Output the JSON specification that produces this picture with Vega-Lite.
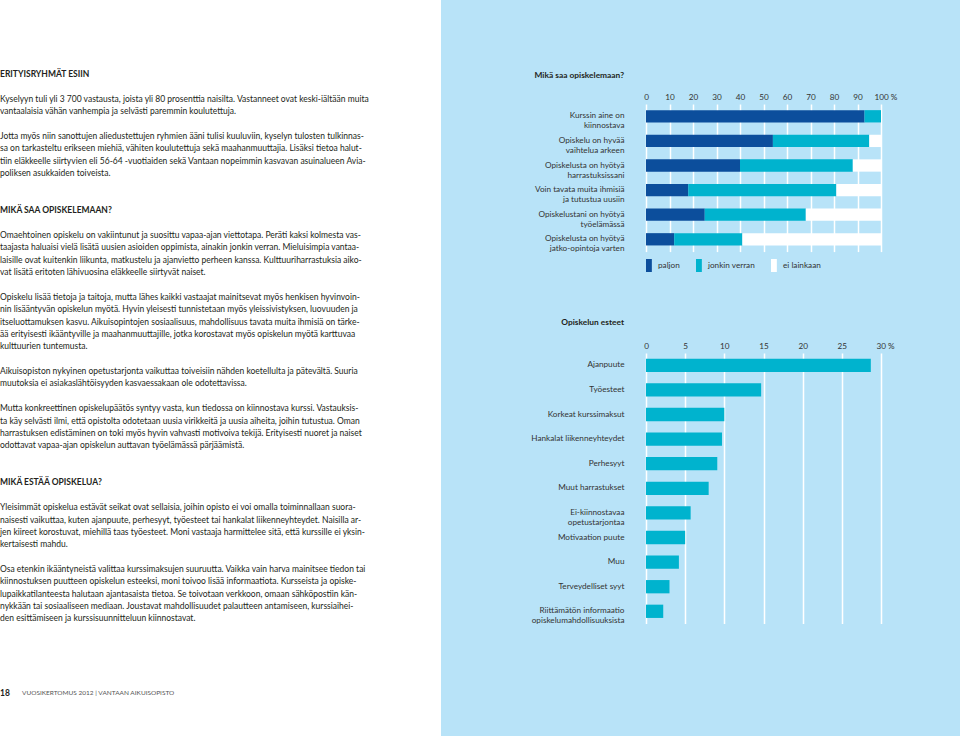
{
  "$schema": "https://vega.github.io/schema/vega-lite/v6.json",
  "background": "#b8e3f8",
  "padding": {"left": 0, "top": 0, "right": 67, "bottom": 0},
  "spacing": 89,
  "resolve": {"scale": {"color": "independent"}, "legend": {"color": "independent"}},
  "config": {
    "view": {"stroke": null},
    "font": "Lato",
    "axis": {"labelFont": "Lato", "labelFontSize": 8.2, "labelColor": "#333333"},
    "legend": {"labelFont": "Lato", "labelFontSize": 8.2, "labelColor": "#333333"}
  },
  "hconcat": [
    {
      "width": 441,
      "height": 736,
      "view": {"fill": "white", "stroke": null},
      "data": {
        "values": [
          {"line": 0, "kind": "h", "text": "ERITYISRYHMÄT ESIIN"},
          {"line": 2, "kind": "p", "text": "Kyselyyn tuli yli 3 700 vastausta, joista yli 80 prosenttia naisilta. Vastanneet ovat keski-iältään muita"},
          {"line": 3, "kind": "p", "text": "vantaalaisia vähän vanhempia ja selvästi paremmin koulutettuja."},
          {"line": 5, "kind": "p", "text": "Jotta myös niin sanottujen aliedustettujen ryhmien ääni tulisi kuuluviin, kyselyn tulosten tulkinnas-"},
          {"line": 6, "kind": "p", "text": "sa on tarkasteltu erikseen miehiä, vähiten koulutettuja sekä maahanmuuttajia. Lisäksi tietoa halut-"},
          {"line": 7, "kind": "p", "text": "tiin eläkkeelle siirtyvien eli 56-64 -vuotiaiden sekä Vantaan nopeimmin kasvavan asuinalueen Avia-"},
          {"line": 8, "kind": "p", "text": "poliksen asukkaiden toiveista."},
          {"line": 11, "kind": "h", "text": "MIKÄ SAA OPISKELEMAAN?"},
          {"line": 13, "kind": "p", "text": "Omaehtoinen opiskelu on vakiintunut ja suosittu vapaa-ajan viettotapa. Peräti kaksi kolmesta vas-"},
          {"line": 14, "kind": "p", "text": "taajasta haluaisi vielä lisätä uusien asioiden oppimista, ainakin jonkin verran. Mieluisimpia vantaa-"},
          {"line": 15, "kind": "p", "text": "laisille ovat kuitenkin liikunta, matkustelu ja ajanvietto perheen kanssa. Kulttuuriharrastuksia aiko-"},
          {"line": 16, "kind": "p", "text": "vat lisätä eritoten lähivuosina eläkkeelle siirtyvät naiset."},
          {"line": 18, "kind": "p", "text": "Opiskelu lisää tietoja ja taitoja, mutta lähes kaikki vastaajat mainitsevat myös henkisen hyvinvoin-"},
          {"line": 19, "kind": "p", "text": "nin lisääntyvän opiskelun myötä. Hyvin yleisesti tunnistetaan myös yleissivistyksen, luovuuden ja"},
          {"line": 20, "kind": "p", "text": "itseluottamuksen kasvu. Aikuisopintojen sosiaalisuus, mahdollisuus tavata muita ihmisiä on tärke-"},
          {"line": 21, "kind": "p", "text": "ää erityisesti ikääntyville ja maahanmuuttajille, jotka korostavat myös opiskelun myötä karttuvaa"},
          {"line": 22, "kind": "p", "text": "kulttuurien tuntemusta."},
          {"line": 24, "kind": "p", "text": "Aikuisopiston nykyinen opetustarjonta vaikuttaa toiveisiin nähden koetellulta ja pätevältä. Suuria"},
          {"line": 25, "kind": "p", "text": "muutoksia ei asiakaslähtöisyyden kasvaessakaan ole odotettavissa."},
          {"line": 27, "kind": "p", "text": "Mutta konkreettinen opiskelupäätös syntyy vasta, kun tiedossa on kiinnostava kurssi. Vastauksis-"},
          {"line": 28, "kind": "p", "text": "ta käy selvästi ilmi, että opistolta odotetaan uusia virikkeitä ja uusia aiheita, joihin tutustua. Oman"},
          {"line": 29, "kind": "p", "text": "harrastuksen edistäminen on toki myös hyvin vahvasti motivoiva tekijä. Erityisesti nuoret ja naiset"},
          {"line": 30, "kind": "p", "text": "odottavat vapaa-ajan opiskelun auttavan työelämässä pärjäämistä."},
          {"line": 33, "kind": "h", "text": "MIKÄ ESTÄÄ OPISKELUA?"},
          {"line": 35, "kind": "p", "text": "Yleisimmät opiskelua estävät seikat ovat sellaisia, joihin opisto ei voi omalla toiminnallaan suora-"},
          {"line": 36, "kind": "p", "text": "naisesti vaikuttaa, kuten ajanpuute, perhesyyt, työesteet tai hankalat liikenneyhteydet. Naisilla ar-"},
          {"line": 37, "kind": "p", "text": "jen kiireet korostuvat, miehillä taas työesteet. Moni vastaaja harmittelee sitä, että kurssille ei yksin-"},
          {"line": 38, "kind": "p", "text": "kertaisesti mahdu."},
          {"line": 40, "kind": "p", "text": "Osa etenkin ikääntyneistä valittaa kurssimaksujen suuruutta. Vaikka vain harva mainitsee tiedon tai"},
          {"line": 41, "kind": "p", "text": "kiinnostuksen puutteen opiskelun esteeksi, moni toivoo lisää informaatiota. Kursseista ja opiske-"},
          {"line": 42, "kind": "p", "text": "lupaikkatilanteesta halutaan ajantasaista tietoa. Se toivotaan verkkoon, omaan sähköpostiin kän-"},
          {"line": 43, "kind": "p", "text": "nykkään tai sosiaaliseen mediaan. Joustavat mahdollisuudet palautteen antamiseen, kurssiaihei-"},
          {"line": 44, "kind": "p", "text": "den esittämiseen ja kurssisuunnitteluun kiinnostavat."},
          {"line": 50, "kind": "f1", "text": "18"},
          {"line": 50, "kind": "f2", "text": "VUOSIKERTOMUS 2012   |   VANTAAN AIKUISOPISTO"}
        ]
      },
      "encoding": {
        "y": {"field": "line", "type": "quantitative", "axis": null,
              "scale": {"domain": [-6, 53.5], "reverse": true, "nice": false, "zero": false}},
        "x": {"value": 0},
        "text": {"field": "text", "type": "nominal"}
      },
      "layer": [
        {"transform": [{"filter": "datum.kind == 'p'"}],
         "mark": {"type": "text", "align": "left", "baseline": "middle", "font": "Lato", "fontSize": 8.5, "color": "#231f20"}},
        {"transform": [{"filter": "datum.kind == 'h'"}],
         "mark": {"type": "text", "align": "left", "baseline": "middle", "font": "Lato", "fontSize": 8.5, "fontWeight": "bold", "color": "#231f20"}},
        {"transform": [{"filter": "datum.kind == 'f1'"}],
         "mark": {"type": "text", "align": "left", "baseline": "middle", "font": "Lato", "fontSize": 8.5, "fontWeight": "bold", "color": "#231f20"}},
        {"transform": [{"filter": "datum.kind == 'f2'"}],
         "mark": {"type": "text", "align": "left", "baseline": "middle", "font": "Lato", "fontSize": 6.5, "dx": 22, "color": "#555555"}}
      ]
    },
    {
      "spacing": 45,
      "resolve": {"scale": {"color": "independent"}, "legend": {"color": "independent"}},
      "vconcat": [
        {
          "width": 235,
          "height": 25,
          "data": {"values": []},
          "mark": {"type": "text"},
          "encoding": {}
        },
        {
          "width": 235,
          "height": 147.6,
          "title": {"text": "Mikä saa opiskelemaan?", "anchor": "start", "frame": "group", "align": "right", "dx": -22, "offset": 13, "font": "Lato", "fontSize": 8.4, "fontWeight": "bold", "color": "#231f20"},
          "data": {
            "values": [
              {"q": "Kurssin aine on\nkiinnostava", "level": "paljon", "o": 1, "v": 93},
              {"q": "Kurssin aine on\nkiinnostava", "level": "jonkin verran", "o": 2, "v": 7},
              {"q": "Kurssin aine on\nkiinnostava", "level": "ei lainkaan", "o": 3, "v": 0},
              {"q": "Opiskelu on hyvää\nvaihtelua arkeen", "level": "paljon", "o": 1, "v": 54},
              {"q": "Opiskelu on hyvää\nvaihtelua arkeen", "level": "jonkin verran", "o": 2, "v": 41},
              {"q": "Opiskelu on hyvää\nvaihtelua arkeen", "level": "ei lainkaan", "o": 3, "v": 5},
              {"q": "Opiskelusta on hyötyä\nharrastuksissani", "level": "paljon", "o": 1, "v": 40},
              {"q": "Opiskelusta on hyötyä\nharrastuksissani", "level": "jonkin verran", "o": 2, "v": 48},
              {"q": "Opiskelusta on hyötyä\nharrastuksissani", "level": "ei lainkaan", "o": 3, "v": 12},
              {"q": "Voin tavata muita ihmisiä\nja tutustua uusiin", "level": "paljon", "o": 1, "v": 18},
              {"q": "Voin tavata muita ihmisiä\nja tutustua uusiin", "level": "jonkin verran", "o": 2, "v": 63},
              {"q": "Voin tavata muita ihmisiä\nja tutustua uusiin", "level": "ei lainkaan", "o": 3, "v": 19},
              {"q": "Opiskelustani on hyötyä\ntyöelämässä", "level": "paljon", "o": 1, "v": 25},
              {"q": "Opiskelustani on hyötyä\ntyöelämässä", "level": "jonkin verran", "o": 2, "v": 43},
              {"q": "Opiskelustani on hyötyä\ntyöelämässä", "level": "ei lainkaan", "o": 3, "v": 32},
              {"q": "Opiskelusta on hyötyä\njatko-opintoja varten", "level": "paljon", "o": 1, "v": 12},
              {"q": "Opiskelusta on hyötyä\njatko-opintoja varten", "level": "jonkin verran", "o": 2, "v": 29},
              {"q": "Opiskelusta on hyötyä\njatko-opintoja varten", "level": "ei lainkaan", "o": 3, "v": 59}
            ]
          },
          "mark": {"type": "bar"},
          "encoding": {
            "y": {"field": "q", "type": "nominal", "sort": null,
                  "scale": {"paddingInner": 0.5, "paddingOuter": 0.25},
                  "axis": {"title": null, "domain": false, "ticks": false, "grid": false, "labelPadding": 22, "labelLimit": 250,
                           "labelExpr": "split(datum.label, '\\n')", "labelLineHeight": 10}},
            "x": {"field": "v", "type": "quantitative", "stack": "zero",
                  "scale": {"domain": [0, 100], "nice": false},
                  "axis": {"orient": "top", "title": null, "values": [0, 10, 20, 30, 40, 50, 60, 70, 80, 90, 100],
                           "domain": false, "ticks": false, "labelPadding": 3, "labelOverlap": false, "labelFlush": false,
                           "grid": true, "gridColor": "#ffffff", "gridWidth": 1.5, "gridOpacity": 1,
                           "labelAlign": {"condition": {"test": "datum.value == 100", "value": "left"}, "value": "center"},
                           "labelOffset": {"condition": {"test": "datum.value == 100", "value": -7}, "value": 0},
                           "labelExpr": "datum.value == 100 ? '100 %' : datum.label"}},
            "color": {"field": "level", "type": "nominal",
                      "scale": {"domain": ["paljon", "jonkin verran", "ei lainkaan"], "range": ["#0c4e9c", "#00b3ce", "#ffffff"]},
                      "legend": {"orient": "bottom", "direction": "horizontal", "columns": 3, "title": null,
                                 "symbolType": "M-1,-1H-0.1V1H-1Z", "symbolSize": 169, "symbolStrokeWidth": 0,
                                 "labelOffset": -1, "columnPadding": 16, "offset": 7, "padding": 0}},
            "order": {"field": "o", "type": "quantitative"}
          }
        },
        {
          "width": 235,
          "height": 270.6,
          "title": {"text": "Opiskelun esteet", "anchor": "start", "frame": "group", "align": "right", "dx": -22, "offset": 15, "font": "Lato", "fontSize": 8.4, "fontWeight": "bold", "color": "#231f20"},
          "data": {
            "values": [
              {"cause": "Ajanpuute", "v": 28.7},
              {"cause": "Työesteet", "v": 14.7},
              {"cause": "Korkeat kurssimaksut", "v": 10.0},
              {"cause": "Hankalat liikenneyhteydet", "v": 9.7},
              {"cause": "Perhesyyt", "v": 9.1},
              {"cause": "Muut harrastukset", "v": 8.0},
              {"cause": "Ei-kiinnostavaa\nopetustarjontaa", "v": 5.7},
              {"cause": "Motivaation puute", "v": 5.0},
              {"cause": "Muu", "v": 4.2},
              {"cause": "Terveydelliset syyt", "v": 3.0},
              {"cause": "Riittämätön informaatio\nopiskelumahdollisuuksista", "v": 2.2}
            ]
          },
          "mark": {"type": "bar", "color": "#00b3ce"},
          "encoding": {
            "y": {"field": "cause", "type": "nominal", "sort": null,
                  "scale": {"paddingInner": 0.46, "paddingOuter": 0.23},
                  "axis": {"title": null, "domain": false, "ticks": false, "grid": false, "labelPadding": 22, "labelLimit": 250,
                           "labelExpr": "split(datum.label, '\\n')", "labelLineHeight": 10}},
            "x": {"field": "v", "type": "quantitative",
                  "scale": {"domain": [0, 30], "nice": false},
                  "axis": {"orient": "top", "title": null, "values": [0, 5, 10, 15, 20, 25, 30],
                           "domain": false, "ticks": false, "labelPadding": 3, "labelOverlap": false, "labelFlush": false,
                           "grid": true, "gridColor": "#ffffff", "gridWidth": 1.5, "gridOpacity": 1,
                           "labelAlign": {"condition": {"test": "datum.value == 30", "value": "left"}, "value": "center"},
                           "labelOffset": {"condition": {"test": "datum.value == 30", "value": -5}, "value": 0},
                           "labelExpr": "datum.value == 30 ? '30 %' : datum.label"}}
          }
        }
      ]
    }
  ]
}
